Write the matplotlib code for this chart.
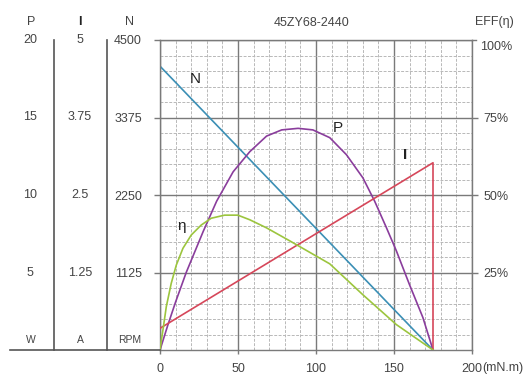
import matplotlib.pyplot as plt
from matplotlib.lines import Line2D
from matplotlib.transforms import blended_transform_factory, offset_copy

plt.rcParams['font.family'] = ['Liberation Sans', 'DejaVu Sans']

# data (torque in mN.m)
title = '45ZY68-2440'
speed_torque = [0, 175]
speed_rpm = [4120, 0]
current_torque = [0, 175, 175]
current_a = [0.35, 3.02, 0]
power_torque = [0, 5, 10, 16.8, 27.7, 36.3, 46.9, 57.6, 68.3, 78, 88.5, 98, 108.8,
                119.5, 130.1, 137.6, 145.1, 151.5, 160, 168.5, 175]
power_w = [0, 1.6, 3.1, 5.0, 7.65, 9.6, 11.5, 12.8, 13.8, 14.2, 14.3, 14.2, 13.7,
           12.6, 11.1, 9.6, 7.9, 6.4, 4.2, 2.1, 0]
eff_torque = [0, 0.9, 1.9, 4.05, 7.2, 10.45, 14.7, 20.05, 26.4, 32.8, 41.4, 49.9,
              57.6, 68.3, 83.2, 108.8, 130.1, 151.5, 175]
eff_pct = [0, 3.2, 6.5, 14.0, 21.5, 27.4, 32.8, 37.1, 40.3, 42.5, 43.5, 43.5,
           42.0, 39.4, 35.2, 27.8, 17.8, 8.2, 0]

p_ticks = [5, 10, 15, 20]
i_ticks = [1.25, 2.5, 3.75, 5]
i_labels = ['1.25', '2.5', '3.75', '5']
n_ticks = [1125, 2250, 3375, 4500]
eff_ticks = [25, 50, 75]
x_ticks = [0, 50, 100, 150, 200]

txt = '#444444'
major_c = '#7a7a7a'
minor_c = '#b8b8b8'

fig = plt.figure(figsize=(5.32, 3.75), dpi=100)
ax = fig.add_axes([160 / 532, 25 / 375, 312 / 532, 310 / 375])
ax.set_xlim(0, 200)
ax.set_ylim(0, 4500)

axP = ax.twinx()
axI = ax.twinx()
axE = ax.twinx()
axP.set_ylim(0, 20)
axI.set_ylim(0, 5)
axE.set_ylim(0, 100)
for a in (axP, axI):
    a.set_yticks([])
    for s in a.spines.values():
        s.set_visible(False)

# grid
ax.set_xticks(range(0, 201, 10), minor=True)
ax.set_yticks(range(0, 4501, 225), minor=True)
ax.grid(which='minor', color=minor_c, lw=0.7, ls=(0, (3, 1.5)))
ax.grid(which='major', color=major_c, lw=1.0)
ax.set_axisbelow(True)
for s in ax.spines.values():
    s.set_color(major_c)
    s.set_linewidth(1.0)
for s in axE.spines.values():
    s.set_visible(False)

ax.set_xticks(x_ticks, [str(v) for v in x_ticks])
ax.set_yticks(n_ticks, [str(v) for v in n_ticks])
ax.tick_params(which='minor', length=0)
ax.tick_params(axis='y', which='major', direction='out', length=4, width=1,
               color=major_c, labelsize=9, labelcolor=txt, pad=9)
ax.tick_params(axis='x', which='major', direction='out', length=3, width=1,
               color=major_c, labelsize=9, labelcolor=txt, pad=6)

axE.set_yticks(eff_ticks, [f'{v}%' for v in eff_ticks])
axE.tick_params(axis='y', direction='out', length=4, width=1, color=major_c,
                labelsize=9, labelcolor=txt, pad=4)
tr_right = blended_transform_factory(ax.transAxes, axE.transData)
axE.plot([1, 1.012], [100, 100], color=major_c, lw=1, transform=tr_right, clip_on=False)
axE.text(1, 100, '100%', transform=offset_copy(tr_right, fig, x=8, y=-7, units='dots'),
         ha='left', va='center', fontsize=9, color=txt)
axE.text(1, 100, 'EFF(η)', transform=offset_copy(tr_right, fig, x=22, y=18, units='dots'),
         ha='center', va='center', fontsize=9, color=txt)

ax.text(200, 0, '(mN.m)', transform=offset_copy(ax.transData, fig, x=7.5, y=-9, units='points'),
        ha='left', va='top', fontsize=9, color=txt)
fig.text(312 / 532, 1 - 23 / 375, title, ha='center', va='center', fontsize=9, color=txt)

# curves
ax.plot(speed_torque, speed_rpm, color='#3b8fb5', lw=1.2)
axP.plot(power_torque, power_w, color='#8a3d9c', lw=1.2)
axI.plot(current_torque, current_a, color='#d6475a', lw=1.2)
axE.plot(eff_torque, eff_pct, color='#9cc53e', lw=1.2)

for a, lab, xy in [(ax, 'N', (22.5, 3930)), (axP, 'P', (114, 14.3)),
                   (axI, 'I', (157, 3.15)), (axE, 'η', (14, 40))]:
    a.text(*xy, lab, fontsize=11, color='#222222', ha='center', va='center',
           fontweight='bold' if lab == 'I' else 'normal')

# left columns of scales
trP = blended_transform_factory(fig.transFigure, axP.transData)
trI = blended_transform_factory(fig.transFigure, axI.transData)
for v in p_ticks:
    axP.text(30 / 532, v, str(v), transform=trP, ha='center', va='center', fontsize=9, color=txt)
for v, lab in zip(i_ticks, i_labels):
    axI.text(80 / 532, v, lab, transform=trI, ha='center', va='center', fontsize=9, color=txt)

head_y = 1 - 22 / 375
unit_y = 1 - 340 / 375
for x, h, u in [(31, 'P', 'W'), (80, 'I', 'A'), (130, 'N', 'RPM')]:
    fig.text(x / 532, head_y, h, ha='center', va='center', fontsize=9,
             color='#222222' if h == 'I' else txt,
             fontweight='bold' if h == 'I' else 'normal')
    fig.text(x / 532, unit_y, u, ha='center', va='center', fontsize=7.5, color=txt)

for x in (54, 107):
    fig.add_artist(Line2D([x / 532, x / 532], [1 - 40 / 375, 1 - 350 / 375], color='#555555', lw=1.2))
fig.add_artist(Line2D([10 / 532, 160 / 532], [1 - 350 / 375, 1 - 350 / 375], color='#555555', lw=1.2))

fig.savefig('out.png', dpi=100)
